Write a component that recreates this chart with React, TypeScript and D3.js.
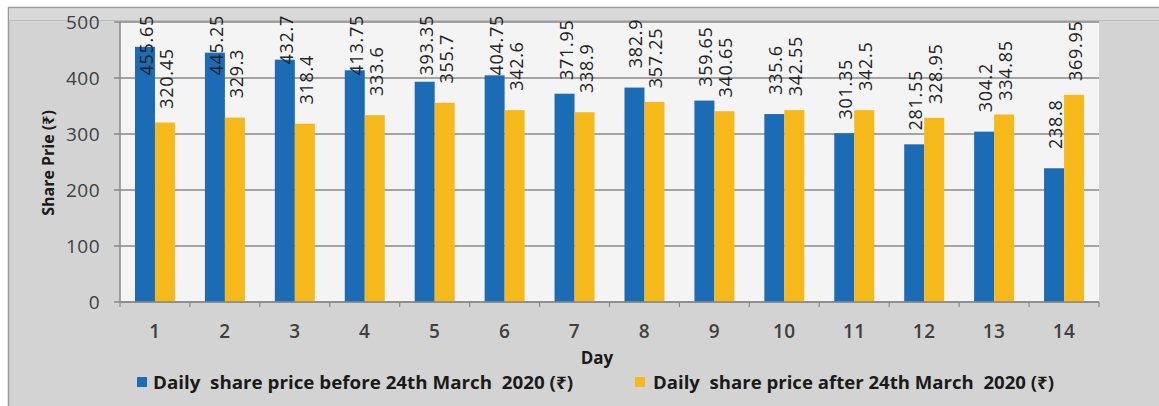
import React from "react";
import * as d3 from "d3";

// Day numbers on the category axis
const days: string[] = ["1", "2", "3", "4", "5", "6", "7", "8", "9", "10", "11", "12", "13", "14"];

// Daily share price (₹) before 24th March 2020
const beforePrices: number[] = [455.65, 445.25, 432.7, 413.75, 393.35, 404.75, 371.95, 382.9, 359.65, 335.6, 301.35, 281.55, 304.2, 238.8];

// Daily share price (₹) after 24th March 2020
const afterPrices: number[] = [320.45, 329.3, 318.4, 333.6, 355.7, 342.6, 338.9, 357.25, 340.65, 342.55, 342.5, 328.95, 334.85, 369.95];

const yTicks: number[] = [0, 100, 200, 300, 400, 500];

const seriesNames: string[] = [
  "Daily  share price before 24th March  2020 (₹)",
  "Daily  share price after 24th March  2020 (₹)",
];

const W = 1159;
const H = 406;
const plot = { left: 120, right: 1099, top: 22, bottom: 302 };
const BLUE = "#1c6bb5";
const GOLD = "#f5b91b";
const TEXT = "#404040";
const FONT = "'Open Sans', 'Noto Sans', sans-serif";
const LABEL_SIZE = 18;
const LABEL_SPACING = 0.7;

let measureCtx: CanvasRenderingContext2D | null = null;
function textWidth(s: string, font: string): number {
  if (!measureCtx) {
    const c = document.createElement("canvas");
    measureCtx = c.getContext("2d");
  }
  if (!measureCtx) return s.length * 10;
  measureCtx.font = font;
  return measureCtx.measureText(s).width + LABEL_SPACING * s.length;
}

export default function App() {
  const x = d3.scaleBand<string>().domain(days).range([plot.left, plot.right]).paddingInner(0).paddingOuter(0);
  const inner = d3
    .scaleBand<number>()
    .domain([0, 1])
    .range([0, x.bandwidth()])
    .paddingInner(0)
    .paddingOuter(0.75);
  const y = d3.scaleLinear().domain([0, 500]).range([plot.bottom, plot.top]);

  const series = [beforePrices, afterPrices];
  const colors = [BLUE, GOLD];

  const labelFont = `${LABEL_SIZE}px ${FONT}`;

  return (
    <svg width={W} height={H} style={{ display: "block", position: "absolute", left: 0, top: 0 }} fontFamily={FONT}>
      <rect x={0} y={0} width={W} height={H} fill="#ffffff" />
      {/* chart frame */}
      <rect x={8} y={7} width={W - 8} height={H - 7} fill="#d3d3d3" />
      <line x1={8} x2={W} y1={7.5} y2={7.5} stroke="#9a9a9a" strokeWidth={1.5} />
      <line x1={8.5} x2={8.5} y1={7} y2={H} stroke="#9a9a9a" strokeWidth={1.5} />
      <rect x={9} y={8.5} width={W - 9} height={12} fill="#d9d9d9" />
      <line x1={9} x2={W} y1={20.5} y2={20.5} stroke="#bdbdbd" strokeWidth={1} />

      {/* plot area */}
      <rect x={plot.left} y={plot.top} width={plot.right - plot.left} height={plot.bottom - plot.top} fill="#f4f4f4" />

      {/* horizontal gridlines and y ticks */}
      {yTicks.map((t) => (
        <g key={`y${t}`}>
          <line
            x1={plot.left - 6}
            x2={plot.right}
            y1={y(t)}
            y2={y(t)}
            stroke="#8a8a8a"
            strokeWidth={1.5}
          />
          <text
            x={100}
            y={y(t)}
            textAnchor="end"
            dominantBaseline="central"
            fontSize={19}
            letterSpacing={0.5}
            fill={TEXT}
          >
            {t}
          </text>
        </g>
      ))}
      <line x1={plot.left} x2={plot.left} y1={plot.top} y2={plot.bottom} stroke="#8a8a8a" strokeWidth={1.5} />

      {/* bars */}
      {series.map((vals, si) =>
        vals.map((v, i) => (
          <rect
            key={`b${si}-${i}`}
            x={(x(days[i]) as number) + (inner(si) as number)}
            y={y(v)}
            width={inner.bandwidth()}
            height={y(0) - y(v)}
            fill={colors[si]}
          />
        ))
      )}

      {/* category axis */}
      <line x1={plot.left} x2={plot.right} y1={plot.bottom} y2={plot.bottom} stroke="#8a8a8a" strokeWidth={1.5} />
      {days.map((d, i) => (
        <line
          key={`t${i}`}
          x1={x(d) as number}
          x2={x(d) as number}
          y1={plot.bottom}
          y2={plot.bottom + 5}
          stroke="#8a8a8a"
          strokeWidth={1.2}
        />
      ))}
      <line x1={plot.right} x2={plot.right} y1={plot.bottom} y2={plot.bottom + 5} stroke="#8a8a8a" strokeWidth={1.2} />
      {days.map((d) => (
        <text
          key={`xl${d}`}
          x={(x(d) as number) + x.bandwidth() / 2}
          y={331}
          textAnchor="middle"
          dominantBaseline="central"
          fontSize={19}
          fontWeight={600}
          letterSpacing={0.5}
          fill={TEXT}
        >
          {d}
        </text>
      ))}

      {/* rotated value labels */}
      {series.map((vals, si) =>
        vals.map((v, i) => {
          const label = String(v);
          const len = textWidth(label, labelFont);
          const cx = (x(days[i]) as number) + (inner(si) as number) + inner.bandwidth() / 2 + 1;
          let cy = y(v) - 44;
          const minCenter = 15 + len / 2;
          if (cy < minCenter) cy = minCenter;
          return (
            <text
              key={`l${si}-${i}`}
              transform={`translate(${cx},${cy}) rotate(-90)`}
              textAnchor="middle"
              dominantBaseline="central"
              fontSize={LABEL_SIZE}
              letterSpacing={LABEL_SPACING}
              fill="#222222"
            >
              {label}
            </text>
          );
        })
      )}

      {/* axis titles */}
      <text
        transform={`translate(48,163) rotate(-90)`}
        textAnchor="middle"
        dominantBaseline="central"
        fontSize={16}
        fontWeight={700}
        fill="#1a1a1a"
      >
        Share Prie (₹)
      </text>
      <text x={597} y={357} textAnchor="middle" dominantBaseline="central" fontSize={17} fontWeight={700} fill="#1a1a1a">
        Day
      </text>

      {/* legend */}
      {[
        { x: 137, tx: 153, tw: 420 },
        { x: 635, tx: 653, tw: 401 },
      ].map((l, si) => (
        <g key={`lg${si}`}>
          <rect x={l.x} y={377} width={10} height={10} fill={colors[si]} />
          <text
            x={l.tx}
            y={382}
            dominantBaseline="central"
            fontSize={17}
            fontWeight={700}
            fill="#1a1a1a"
            textLength={l.tw}
            lengthAdjust="spacingAndGlyphs"
            style={{ whiteSpace: "pre" }}
          >
            {seriesNames[si]}
          </text>
        </g>
      ))}
    </svg>
  );
}
